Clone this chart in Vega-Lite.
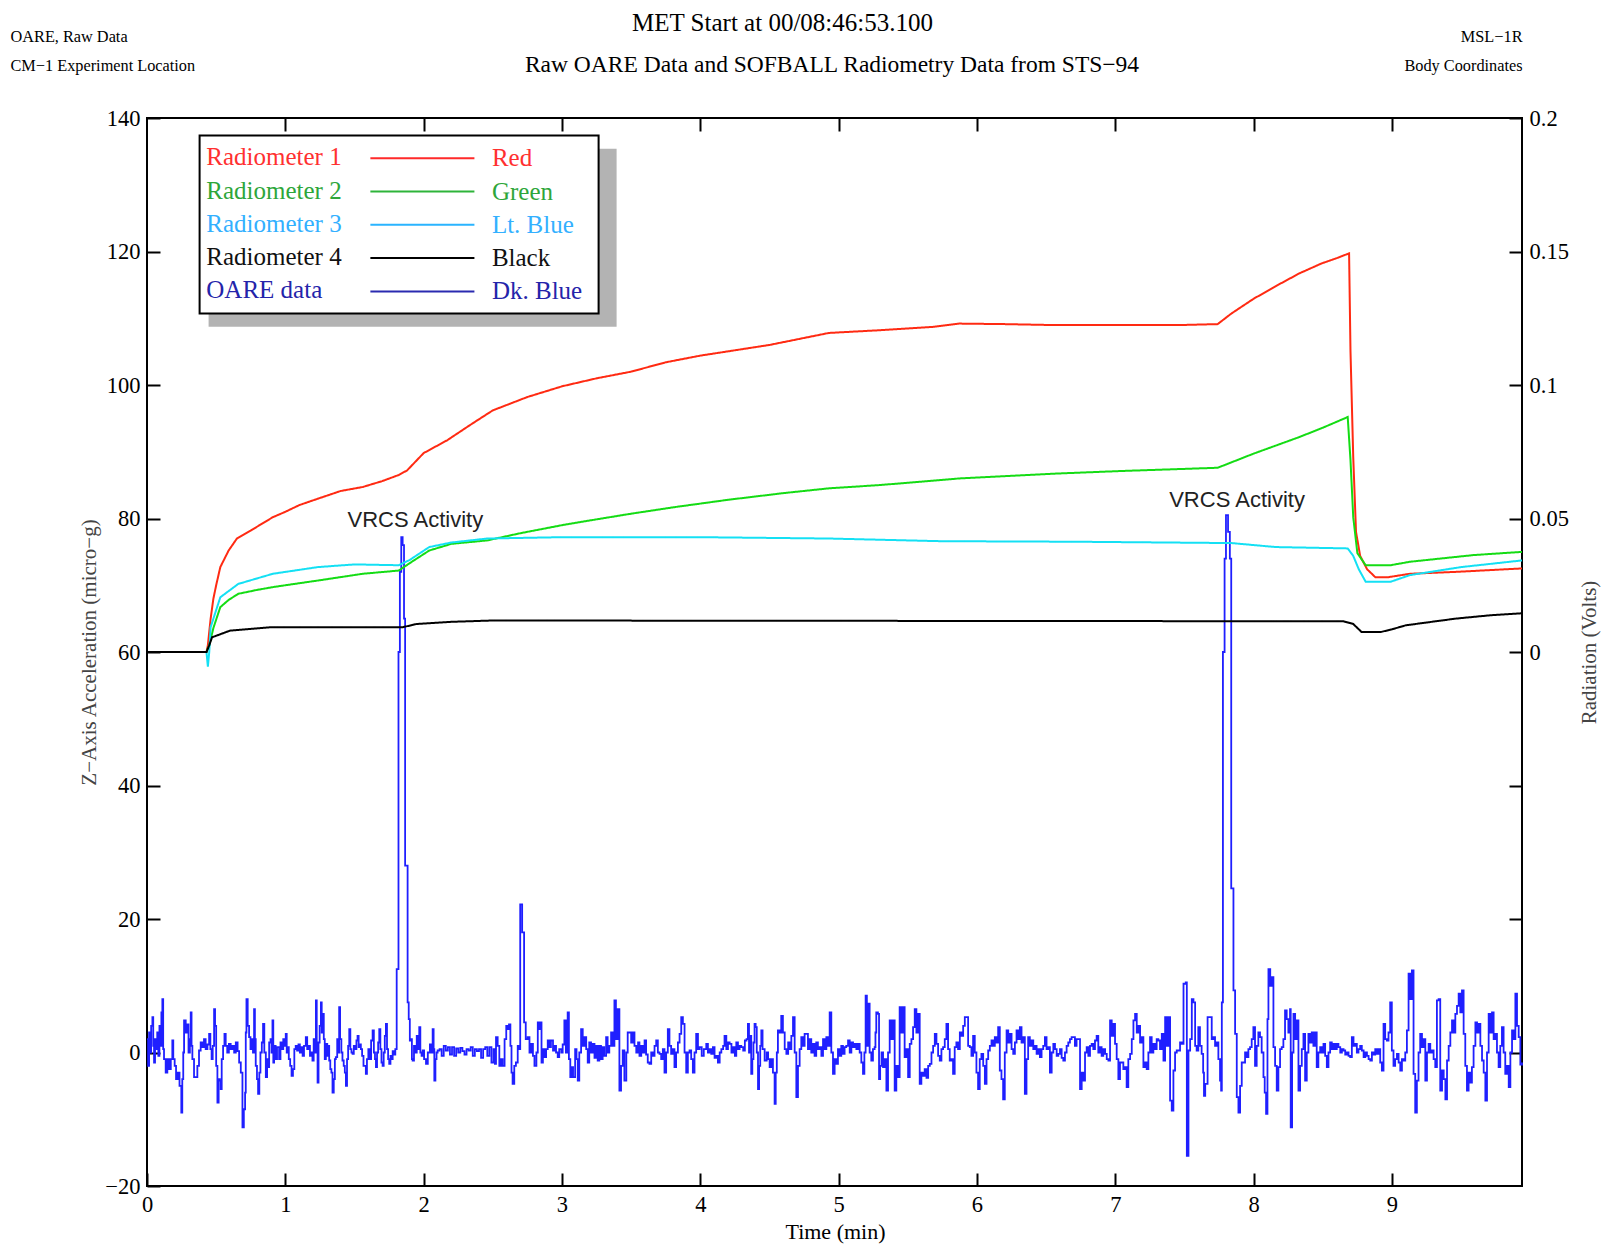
{
"$schema":"https://vega.github.io/schema/vega-lite/v6.json",
"width":1375,"height":1068,
"autosize":{"type":"none"},
"padding":{"left":147,"top":118,"right":82,"bottom":60},
"background":"white",
"title":{"text":"Raw OARE Data and SOFBALL Radiometry Data from STS−94","anchor":"middle","frame":"group","offset":-66,"dx":-2.5,"font":"Liberation Serif","fontSize":23.5,"fontWeight":"normal","color":"black"},
"config":{
 "view":{"stroke":"black","strokeWidth":2},
 "axis":{"domain":false,"grid":false,"tickColor":"black","tickWidth":2,"tickSize":-13,"labelPadding":20,"labelFlush":false,"labelOverlap":false,"labelFont":"Liberation Serif","labelFontSize":22.5,"labelColor":"black","titleFont":"Liberation Serif","titleFontSize":22,"titleFontWeight":"normal","titleColor":"black"}
},
"datasets":{
"radio":[
{"t":0,"volts":0,"series":"Radiometer 1"},{"t":0.43,"volts":0,"series":"Radiometer 1"},{"t":0.44,"volts":0.0025,"series":"Radiometer 1"},{"t":0.46,"volts":0.0125,"series":"Radiometer 1"},{"t":0.48,"volts":0.02,"series":"Radiometer 1"},{"t":0.5,"volts":0.025,"series":"Radiometer 1"},{"t":0.53,"volts":0.0318,"series":"Radiometer 1"},{"t":0.59,"volts":0.038,"series":"Radiometer 1"},{"t":0.65,"volts":0.0425,"series":"Radiometer 1"},{"t":0.75,"volts":0.0455,"series":"Radiometer 1"},{"t":0.91,"volts":0.0505,"series":"Radiometer 1"},{"t":1.0,"volts":0.0525,"series":"Radiometer 1"},{"t":1.1,"volts":0.055,"series":"Radiometer 1"},{"t":1.24,"volts":0.0575,"series":"Radiometer 1"},{"t":1.4,"volts":0.0603,"series":"Radiometer 1"},{"t":1.56,"volts":0.0618,"series":"Radiometer 1"},{"t":1.7,"volts":0.064,"series":"Radiometer 1"},{"t":1.82,"volts":0.0663,"series":"Radiometer 1"},{"t":1.88,"volts":0.068,"series":"Radiometer 1"},{"t":2.0,"volts":0.0745,"series":"Radiometer 1"},{"t":2.17,"volts":0.0793,"series":"Radiometer 1"},{"t":2.35,"volts":0.0855,"series":"Radiometer 1"},{"t":2.5,"volts":0.0905,"series":"Radiometer 1"},{"t":2.75,"volts":0.0955,"series":"Radiometer 1"},{"t":3.0,"volts":0.0995,"series":"Radiometer 1"},{"t":3.25,"volts":0.1025,"series":"Radiometer 1"},{"t":3.5,"volts":0.105,"series":"Radiometer 1"},{"t":3.75,"volts":0.1085,"series":"Radiometer 1"},{"t":4.0,"volts":0.111,"series":"Radiometer 1"},{"t":4.5,"volts":0.115,"series":"Radiometer 1"},{"t":4.93,"volts":0.1195,"series":"Radiometer 1"},{"t":5.29,"volts":0.1205,"series":"Radiometer 1"},{"t":5.69,"volts":0.1218,"series":"Radiometer 1"},{"t":5.87,"volts":0.123,"series":"Radiometer 1"},{"t":6.2,"volts":0.1228,"series":"Radiometer 1"},{"t":6.5,"volts":0.1225,"series":"Radiometer 1"},{"t":7.0,"volts":0.1225,"series":"Radiometer 1"},{"t":7.5,"volts":0.1225,"series":"Radiometer 1"},{"t":7.74,"volts":0.1228,"series":"Radiometer 1"},{"t":7.84,"volts":0.1268,"series":"Radiometer 1"},{"t":8.0,"volts":0.1323,"series":"Radiometer 1"},{"t":8.17,"volts":0.1373,"series":"Radiometer 1"},{"t":8.33,"volts":0.1418,"series":"Radiometer 1"},{"t":8.49,"volts":0.1455,"series":"Radiometer 1"},{"t":8.6,"volts":0.1475,"series":"Radiometer 1"},{"t":8.69,"volts":0.1493,"series":"Radiometer 1"},{"t":8.7,"volts":0.113,"series":"Radiometer 1"},{"t":8.72,"volts":0.073,"series":"Radiometer 1"},{"t":8.74,"volts":0.045,"series":"Radiometer 1"},{"t":8.77,"volts":0.036,"series":"Radiometer 1"},{"t":8.82,"volts":0.031,"series":"Radiometer 1"},{"t":8.88,"volts":0.028,"series":"Radiometer 1"},{"t":8.97,"volts":0.028,"series":"Radiometer 1"},{"t":9.13,"volts":0.0293,"series":"Radiometer 1"},{"t":9.46,"volts":0.03,"series":"Radiometer 1"},{"t":9.94,"volts":0.0313,"series":"Radiometer 1"},
{"t":0,"volts":0,"series":"Radiometer 2"},{"t":0.43,"volts":0,"series":"Radiometer 2"},{"t":0.45,"volts":0.0025,"series":"Radiometer 2"},{"t":0.48,"volts":0.009,"series":"Radiometer 2"},{"t":0.53,"volts":0.0168,"series":"Radiometer 2"},{"t":0.59,"volts":0.0195,"series":"Radiometer 2"},{"t":0.66,"volts":0.0218,"series":"Radiometer 2"},{"t":0.8,"volts":0.0233,"series":"Radiometer 2"},{"t":0.91,"volts":0.0243,"series":"Radiometer 2"},{"t":1.0,"volts":0.025,"series":"Radiometer 2"},{"t":1.24,"volts":0.0268,"series":"Radiometer 2"},{"t":1.56,"volts":0.0293,"series":"Radiometer 2"},{"t":1.82,"volts":0.0305,"series":"Radiometer 2"},{"t":1.9,"volts":0.0333,"series":"Radiometer 2"},{"t":2.04,"volts":0.038,"series":"Radiometer 2"},{"t":2.2,"volts":0.0405,"series":"Radiometer 2"},{"t":2.46,"volts":0.0418,"series":"Radiometer 2"},{"t":2.7,"volts":0.0445,"series":"Radiometer 2"},{"t":3.0,"volts":0.0475,"series":"Radiometer 2"},{"t":3.17,"volts":0.049,"series":"Radiometer 2"},{"t":3.5,"volts":0.0518,"series":"Radiometer 2"},{"t":3.82,"volts":0.0543,"series":"Radiometer 2"},{"t":4.2,"volts":0.057,"series":"Radiometer 2"},{"t":4.6,"volts":0.0595,"series":"Radiometer 2"},{"t":4.93,"volts":0.0613,"series":"Radiometer 2"},{"t":5.29,"volts":0.0625,"series":"Radiometer 2"},{"t":5.6,"volts":0.0638,"series":"Radiometer 2"},{"t":5.87,"volts":0.065,"series":"Radiometer 2"},{"t":6.56,"volts":0.0668,"series":"Radiometer 2"},{"t":7.05,"volts":0.0678,"series":"Radiometer 2"},{"t":7.74,"volts":0.069,"series":"Radiometer 2"},{"t":8.0,"volts":0.0743,"series":"Radiometer 2"},{"t":8.33,"volts":0.0805,"series":"Radiometer 2"},{"t":8.5,"volts":0.084,"series":"Radiometer 2"},{"t":8.68,"volts":0.088,"series":"Radiometer 2"},{"t":8.7,"volts":0.072,"series":"Radiometer 2"},{"t":8.72,"volts":0.0505,"series":"Radiometer 2"},{"t":8.75,"volts":0.037,"series":"Radiometer 2"},{"t":8.81,"volts":0.0325,"series":"Radiometer 2"},{"t":8.99,"volts":0.0325,"series":"Radiometer 2"},{"t":9.13,"volts":0.0338,"series":"Radiometer 2"},{"t":9.59,"volts":0.0363,"series":"Radiometer 2"},{"t":9.94,"volts":0.0375,"series":"Radiometer 2"},
{"t":0,"volts":0,"series":"Radiometer 3"},{"t":0.43,"volts":0,"series":"Radiometer 3"},{"t":0.44,"volts":-0.0055,"series":"Radiometer 3"},{"t":0.45,"volts":0,"series":"Radiometer 3"},{"t":0.46,"volts":0.0093,"series":"Radiometer 3"},{"t":0.53,"volts":0.0205,"series":"Radiometer 3"},{"t":0.66,"volts":0.0255,"series":"Radiometer 3"},{"t":0.91,"volts":0.0293,"series":"Radiometer 3"},{"t":1.235,"volts":0.0318,"series":"Radiometer 3"},{"t":1.5,"volts":0.0328,"series":"Radiometer 3"},{"t":1.82,"volts":0.0325,"series":"Radiometer 3"},{"t":1.9,"volts":0.0345,"series":"Radiometer 3"},{"t":2.04,"volts":0.0393,"series":"Radiometer 3"},{"t":2.2,"volts":0.041,"series":"Radiometer 3"},{"t":2.46,"volts":0.0425,"series":"Radiometer 3"},{"t":3.0,"volts":0.043,"series":"Radiometer 3"},{"t":4.0,"volts":0.043,"series":"Radiometer 3"},{"t":4.93,"volts":0.0425,"series":"Radiometer 3"},{"t":5.74,"volts":0.0415,"series":"Radiometer 3"},{"t":6.71,"volts":0.0413,"series":"Radiometer 3"},{"t":7.84,"volts":0.0408,"series":"Radiometer 3"},{"t":8.16,"volts":0.0393,"series":"Radiometer 3"},{"t":8.68,"volts":0.0388,"series":"Radiometer 3"},{"t":8.72,"volts":0.036,"series":"Radiometer 3"},{"t":8.76,"volts":0.031,"series":"Radiometer 3"},{"t":8.81,"volts":0.0263,"series":"Radiometer 3"},{"t":8.99,"volts":0.0263,"series":"Radiometer 3"},{"t":9.13,"volts":0.0288,"series":"Radiometer 3"},{"t":9.5,"volts":0.0318,"series":"Radiometer 3"},{"t":9.94,"volts":0.0343,"series":"Radiometer 3"},
{"t":0,"volts":0,"series":"Radiometer 4"},{"t":0.43,"volts":0,"series":"Radiometer 4"},{"t":0.45,"volts":0.0025,"series":"Radiometer 4"},{"t":0.47,"volts":0.0055,"series":"Radiometer 4"},{"t":0.6,"volts":0.008,"series":"Radiometer 4"},{"t":0.9,"volts":0.0093,"series":"Radiometer 4"},{"t":1.85,"volts":0.0093,"series":"Radiometer 4"},{"t":1.95,"volts":0.0105,"series":"Radiometer 4"},{"t":2.2,"volts":0.0113,"series":"Radiometer 4"},{"t":2.5,"volts":0.0118,"series":"Radiometer 4"},{"t":8.65,"volts":0.0115,"series":"Radiometer 4"},{"t":8.72,"volts":0.0105,"series":"Radiometer 4"},{"t":8.78,"volts":0.0075,"series":"Radiometer 4"},{"t":8.92,"volts":0.0075,"series":"Radiometer 4"},{"t":9.0,"volts":0.0085,"series":"Radiometer 4"},{"t":9.1,"volts":0.01,"series":"Radiometer 4"},{"t":9.46,"volts":0.0125,"series":"Radiometer 4"},{"t":9.72,"volts":0.0138,"series":"Radiometer 4"},{"t":9.94,"volts":0.0145,"series":"Radiometer 4"}
],
"notes":[{"t":1.94,"accel":79.8,"label":"VRCS Activity"},{"t":7.88,"accel":82.7,"label":"VRCS Activity"}],
"oare":[
{"t":0,"accel":2},{"t":0.008,"accel":-2},{"t":0.015,"accel":3},{"t":0.022,"accel":0},{"t":0.03,"accel":4},{"t":0.039,"accel":5.3},{"t":0.045,"accel":1},{"t":0.051,"accel":-1.5},{"t":0.058,"accel":2},{"t":0.066,"accel":0.5},{"t":0.074,"accel":3},{"t":0.082,"accel":-0.5},{"t":0.09,"accel":4},{"t":0.098,"accel":1},{"t":0.104,"accel":6},{"t":0.111,"accel":8},{"t":0.117,"accel":0.5},{"t":0.123,"accel":-1},{"t":0.135,"accel":-3},{"t":0.147,"accel":-1},{"t":0.16,"accel":-2.5},{"t":0.172,"accel":-1},{"t":0.183,"accel":1.8},{"t":0.19,"accel":-1},{"t":0.2,"accel":-2},{"t":0.21,"accel":-4},{"t":0.222,"accel":-3},{"t":0.235,"accel":-5},{"t":0.248,"accel":-9},{"t":0.255,"accel":-4},{"t":0.262,"accel":0},{"t":0.268,"accel":4.8},{"t":0.28,"accel":3},{"t":0.292,"accel":4.2},{"t":0.3,"accel":0},{"t":0.31,"accel":2},{"t":0.316,"accel":6},{"t":0.322,"accel":1},{"t":0.328,"accel":-1},{"t":0.34,"accel":-3.7},{"t":0.352,"accel":-3.7},{"t":0.364,"accel":-2},{"t":0.376,"accel":0.3},{"t":0.388,"accel":1.5},{"t":0.4,"accel":0.8},{"t":0.412,"accel":2},{"t":0.424,"accel":0.5},{"t":0.437,"accel":1.2},{"t":0.449,"accel":2.8},{"t":0.458,"accel":0.5},{"t":0.467,"accel":-1},{"t":0.475,"accel":1},{"t":0.485,"accel":6.5},{"t":0.492,"accel":4},{"t":0.5,"accel":-2},{"t":0.509,"accel":-7.5},{"t":0.518,"accel":-4},{"t":0.526,"accel":-4.2},{"t":0.533,"accel":-5.5},{"t":0.54,"accel":-1},{"t":0.55,"accel":1},{"t":0.56,"accel":2.8},{"t":0.569,"accel":1},{"t":0.58,"accel":0},{"t":0.592,"accel":1.3},{"t":0.605,"accel":0.5},{"t":0.617,"accel":1},{"t":0.63,"accel":0},{"t":0.642,"accel":1.5},{"t":0.655,"accel":0.2},{"t":0.666,"accel":-1.5},{"t":0.678,"accel":-3},{"t":0.69,"accel":-11.2},{"t":0.7,"accel":-8.5},{"t":0.709,"accel":-6},{"t":0.714,"accel":3},{"t":0.719,"accel":8},{"t":0.728,"accel":4},{"t":0.738,"accel":2.3},{"t":0.748,"accel":0.5},{"t":0.757,"accel":2},{"t":0.766,"accel":0},{"t":0.774,"accel":6.5},{"t":0.78,"accel":2},{"t":0.786,"accel":-2},{"t":0.795,"accel":-4},{"t":0.803,"accel":-6.2},{"t":0.812,"accel":-3},{"t":0.82,"accel":0},{"t":0.83,"accel":1.5},{"t":0.839,"accel":4.3},{"t":0.848,"accel":0},{"t":0.859,"accel":-3.7},{"t":0.868,"accel":-1},{"t":0.876,"accel":-2.2},{"t":0.883,"accel":1.5},{"t":0.893,"accel":2},{"t":0.9,"accel":0},{"t":0.907,"accel":4.8},{"t":0.913,"accel":-1.5},{"t":0.919,"accel":1},{"t":0.93,"accel":-1},{"t":0.94,"accel":0.8},{"t":0.955,"accel":-1},{"t":0.965,"accel":1.5},{"t":0.975,"accel":0.5},{"t":0.985,"accel":2},{"t":0.995,"accel":1},{"t":1.003,"accel":2.8},{"t":1.01,"accel":0},{"t":1.015,"accel":0.8},{"t":1.025,"accel":-1},{"t":1.035,"accel":-2},{"t":1.045,"accel":-3.5},{"t":1.055,"accel":-2.5},{"t":1.065,"accel":0.5},{"t":1.075,"accel":1},{"t":1.085,"accel":0.3},{"t":1.095,"accel":1.2},{"t":1.105,"accel":0},{"t":1.115,"accel":0.8},{"t":1.125,"accel":-0.5},{"t":1.135,"accel":1},{"t":1.148,"accel":2.3},{"t":1.158,"accel":0.5},{"t":1.168,"accel":1},{"t":1.178,"accel":-0.5},{"t":1.188,"accel":0},{"t":1.196,"accel":-1.2},{"t":1.205,"accel":2},{"t":1.212,"accel":0},{"t":1.221,"accel":7.8},{"t":1.227,"accel":0},{"t":1.233,"accel":-4.5},{"t":1.24,"accel":1.5},{"t":1.248,"accel":4},{"t":1.257,"accel":7.5},{"t":1.263,"accel":3},{"t":1.269,"accel":5.8},{"t":1.278,"accel":2},{"t":1.285,"accel":-1},{"t":1.293,"accel":1.3},{"t":1.303,"accel":-0.5},{"t":1.31,"accel":1},{"t":1.317,"accel":-1.2},{"t":1.325,"accel":-2.5},{"t":1.333,"accel":-3},{"t":1.341,"accel":-6},{"t":1.35,"accel":-4},{"t":1.358,"accel":-1},{"t":1.365,"accel":-0.7},{"t":1.375,"accel":2},{"t":1.382,"accel":0},{"t":1.389,"accel":6.8},{"t":1.396,"accel":2},{"t":1.405,"accel":0},{"t":1.413,"accel":-1.2},{"t":1.422,"accel":-2},{"t":1.43,"accel":-3},{"t":1.438,"accel":-5},{"t":1.446,"accel":-1},{"t":1.454,"accel":1},{"t":1.462,"accel":3.5},{"t":1.47,"accel":0.5},{"t":1.478,"accel":0},{"t":1.486,"accel":-0.2},{"t":1.495,"accel":1},{"t":1.505,"accel":0.5},{"t":1.514,"accel":1.8},{"t":1.522,"accel":2.5},{"t":1.53,"accel":0.8},{"t":1.538,"accel":1.2},{"t":1.546,"accel":0.5},{"t":1.555,"accel":-0.5},{"t":1.565,"accel":-2},{"t":1.574,"accel":-2},{"t":1.582,"accel":-3.2},{"t":1.59,"accel":-1},{"t":1.6,"accel":0.5},{"t":1.61,"accel":-1},{"t":1.62,"accel":1.8},{"t":1.631,"accel":3.3},{"t":1.64,"accel":0},{"t":1.648,"accel":-1},{"t":1.655,"accel":-2.2},{"t":1.663,"accel":0},{"t":1.671,"accel":1.5},{"t":1.679,"accel":3.5},{"t":1.687,"accel":0.5},{"t":1.695,"accel":-1.5},{"t":1.703,"accel":-2},{"t":1.711,"accel":0},{"t":1.719,"accel":2.5},{"t":1.727,"accel":4.3},{"t":1.735,"accel":0.5},{"t":1.743,"accel":-1},{"t":1.751,"accel":-1.7},{"t":1.76,"accel":-0.5},{"t":1.768,"accel":-1},{"t":1.776,"accel":0.2},{"t":1.785,"accel":-0.3},{"t":1.795,"accel":0.5},{"t":1.805,"accel":12.5},{"t":1.818,"accel":60},{"t":1.828,"accel":72},{"t":1.838,"accel":77.2},{"t":1.848,"accel":76},{"t":1.858,"accel":65},{"t":1.866,"accel":28},{"t":1.876,"accel":28},{"t":1.884,"accel":7.5},{"t":1.892,"accel":5},{"t":1.9,"accel":1.8},{"t":1.908,"accel":2},{"t":1.915,"accel":-1},{"t":1.92,"accel":-1.2},{"t":1.93,"accel":1},{"t":1.94,"accel":0},{"t":1.95,"accel":2.5},{"t":1.958,"accel":0.5},{"t":1.968,"accel":3.8},{"t":1.976,"accel":0},{"t":1.985,"accel":-0.5},{"t":1.993,"accel":0.3},{"t":2.003,"accel":-1},{"t":2.017,"accel":-1.7},{"t":2.03,"accel":0},{"t":2.045,"accel":1.2},{"t":2.055,"accel":0},{"t":2.065,"accel":3.5},{"t":2.072,"accel":0.5},{"t":2.077,"accel":-4.2},{"t":2.085,"accel":-1},{"t":2.093,"accel":0},{"t":2.101,"accel":0.3},{"t":2.115,"accel":0.5},{"t":2.13,"accel":-0.5},{"t":2.145,"accel":1},{"t":2.16,"accel":0.3},{"t":2.175,"accel":0.8},{"t":2.19,"accel":-0.3},{"t":2.205,"accel":0.8},{"t":2.22,"accel":-0.5},{"t":2.235,"accel":0.6},{"t":2.25,"accel":0},{"t":2.265,"accel":0.7},{"t":2.28,"accel":0.2},{"t":2.295,"accel":-0.3},{"t":2.31,"accel":0.5},{"t":2.325,"accel":0.3},{"t":2.34,"accel":0.8},{"t":2.355,"accel":-0.5},{"t":2.37,"accel":0.5},{"t":2.385,"accel":0.2},{"t":2.4,"accel":0.5},{"t":2.415,"accel":-0.8},{"t":2.43,"accel":0.5},{"t":2.445,"accel":0.8},{"t":2.46,"accel":-0.5},{"t":2.475,"accel":0.8},{"t":2.49,"accel":-1.5},{"t":2.505,"accel":0.5},{"t":2.515,"accel":-1.7},{"t":2.523,"accel":2.3},{"t":2.535,"accel":1},{"t":2.547,"accel":-2},{"t":2.56,"accel":-1},{"t":2.571,"accel":-2},{"t":2.585,"accel":2},{"t":2.597,"accel":4},{"t":2.607,"accel":3.5},{"t":2.617,"accel":4.2},{"t":2.627,"accel":1},{"t":2.635,"accel":-3},{"t":2.643,"accel":-4.7},{"t":2.655,"accel":-2},{"t":2.667,"accel":-1.5},{"t":2.68,"accel":1},{"t":2.69,"accel":0.5},{"t":2.698,"accel":22.2},{"t":2.712,"accel":18},{"t":2.726,"accel":4.5},{"t":2.738,"accel":2},{"t":2.752,"accel":2.3},{"t":2.765,"accel":0},{"t":2.777,"accel":1.3},{"t":2.79,"accel":-0.5},{"t":2.801,"accel":-2},{"t":2.815,"accel":0},{"t":2.825,"accel":4.5},{"t":2.835,"accel":3.5},{"t":2.845,"accel":4.5},{"t":2.852,"accel":-1.5},{"t":2.862,"accel":0.5},{"t":2.873,"accel":-0.7},{"t":2.885,"accel":0.5},{"t":2.897,"accel":1.8},{"t":2.909,"accel":0.8},{"t":2.92,"accel":1.8},{"t":2.935,"accel":0.3},{"t":2.945,"accel":1},{"t":2.957,"accel":0},{"t":2.969,"accel":-0.7},{"t":2.98,"accel":0.5},{"t":2.995,"accel":0},{"t":3.005,"accel":1.2},{"t":3.017,"accel":4.8},{"t":3.028,"accel":0},{"t":3.041,"accel":6},{"t":3.05,"accel":-1},{"t":3.06,"accel":-3.7},{"t":3.07,"accel":-2.2},{"t":3.08,"accel":-3.7},{"t":3.095,"accel":0.5},{"t":3.105,"accel":-1},{"t":3.114,"accel":-4.2},{"t":3.125,"accel":0},{"t":3.138,"accel":3.5},{"t":3.15,"accel":1},{"t":3.162,"accel":2.3},{"t":3.175,"accel":0.5},{"t":3.186,"accel":-1.5},{"t":3.197,"accel":1.5},{"t":3.21,"accel":0},{"t":3.222,"accel":1.3},{"t":3.235,"accel":-0.8},{"t":3.247,"accel":1},{"t":3.258,"accel":-1.2},{"t":3.27,"accel":1},{"t":3.282,"accel":-1},{"t":3.294,"accel":0.8},{"t":3.305,"accel":-0.5},{"t":3.319,"accel":2.3},{"t":3.33,"accel":0},{"t":3.342,"accel":1},{"t":3.355,"accel":3},{"t":3.367,"accel":1},{"t":3.379,"accel":7.8},{"t":3.39,"accel":2},{"t":3.403,"accel":6.5},{"t":3.415,"accel":-5.7},{"t":3.427,"accel":-2},{"t":3.439,"accel":0.3},{"t":3.451,"accel":-4.2},{"t":3.465,"accel":0},{"t":3.475,"accel":3},{"t":3.488,"accel":3},{"t":3.5,"accel":1.5},{"t":3.512,"accel":3},{"t":3.524,"accel":1},{"t":3.537,"accel":0},{"t":3.55,"accel":1.5},{"t":3.56,"accel":-0.5},{"t":3.573,"accel":1},{"t":3.585,"accel":0},{"t":3.597,"accel":1.8},{"t":3.608,"accel":-0.3},{"t":3.62,"accel":-1.5},{"t":3.632,"accel":-1.7},{"t":3.645,"accel":0},{"t":3.657,"accel":-0.5},{"t":3.669,"accel":1},{"t":3.681,"accel":1.8},{"t":3.693,"accel":0},{"t":3.705,"accel":-0.2},{"t":3.717,"accel":-1},{"t":3.729,"accel":0.5},{"t":3.741,"accel":-3},{"t":3.753,"accel":0},{"t":3.765,"accel":3.5},{"t":3.777,"accel":1},{"t":3.789,"accel":-0.2},{"t":3.8,"accel":0.5},{"t":3.813,"accel":-2.2},{"t":3.825,"accel":0},{"t":3.838,"accel":1.5},{"t":3.85,"accel":2.8},{"t":3.862,"accel":5.3},{"t":3.874,"accel":4.3},{"t":3.886,"accel":0},{"t":3.898,"accel":-3},{"t":3.91,"accel":0},{"t":3.922,"accel":0.3},{"t":3.934,"accel":-1},{"t":3.946,"accel":-3},{"t":3.958,"accel":0},{"t":3.97,"accel":2.8},{"t":3.983,"accel":0.5},{"t":3.995,"accel":0.8},{"t":4.01,"accel":-0.5},{"t":4.025,"accel":0.5},{"t":4.043,"accel":1.3},{"t":4.055,"accel":0},{"t":4.067,"accel":0.5},{"t":4.079,"accel":-0.2},{"t":4.091,"accel":0.8},{"t":4.103,"accel":-0.8},{"t":4.115,"accel":-0.5},{"t":4.127,"accel":-1.5},{"t":4.14,"accel":0},{"t":4.152,"accel":0.5},{"t":4.165,"accel":1},{"t":4.175,"accel":2.5},{"t":4.188,"accel":0.5},{"t":4.2,"accel":1.5},{"t":4.212,"accel":1.3},{"t":4.225,"accel":0},{"t":4.237,"accel":0.8},{"t":4.25,"accel":-0.5},{"t":4.26,"accel":1.5},{"t":4.272,"accel":0.5},{"t":4.284,"accel":1},{"t":4.296,"accel":0.8},{"t":4.31,"accel":0.3},{"t":4.322,"accel":1.8},{"t":4.334,"accel":2},{"t":4.344,"accel":4.3},{"t":4.352,"accel":0},{"t":4.36,"accel":2.5},{"t":4.368,"accel":-3.2},{"t":4.376,"accel":-1},{"t":4.384,"accel":1.5},{"t":4.392,"accel":4.3},{"t":4.4,"accel":3.8},{"t":4.408,"accel":0},{"t":4.417,"accel":-5.5},{"t":4.425,"accel":-2},{"t":4.433,"accel":1},{"t":4.441,"accel":3.3},{"t":4.45,"accel":0.5},{"t":4.465,"accel":-1.2},{"t":4.48,"accel":0},{"t":4.49,"accel":-1},{"t":4.501,"accel":-2.2},{"t":4.512,"accel":-1},{"t":4.525,"accel":-3},{"t":4.537,"accel":-7.7},{"t":4.545,"accel":-3},{"t":4.553,"accel":0},{"t":4.561,"accel":3.3},{"t":4.573,"accel":3},{"t":4.585,"accel":5.5},{"t":4.597,"accel":3},{"t":4.61,"accel":0.5},{"t":4.622,"accel":-0.2},{"t":4.635,"accel":1.5},{"t":4.647,"accel":0.5},{"t":4.658,"accel":2.5},{"t":4.67,"accel":5.3},{"t":4.682,"accel":0},{"t":4.694,"accel":-6.7},{"t":4.706,"accel":-2},{"t":4.718,"accel":0.5},{"t":4.73,"accel":2.3},{"t":4.742,"accel":1},{"t":4.754,"accel":2.8},{"t":4.766,"accel":2.8},{"t":4.778,"accel":0.5},{"t":4.79,"accel":2},{"t":4.802,"accel":0},{"t":4.814,"accel":1.3},{"t":4.826,"accel":-0.5},{"t":4.838,"accel":1.5},{"t":4.85,"accel":0.5},{"t":4.863,"accel":0.8},{"t":4.875,"accel":-0.5},{"t":4.887,"accel":2},{"t":4.899,"accel":0.5},{"t":4.911,"accel":2.3},{"t":4.923,"accel":1},{"t":4.935,"accel":6},{"t":4.947,"accel":0},{"t":4.959,"accel":-3.2},{"t":4.971,"accel":-1},{"t":4.983,"accel":-1.7},{"t":4.995,"accel":0.5},{"t":5.007,"accel":-0.5},{"t":5.019,"accel":1},{"t":5.031,"accel":-0.2},{"t":5.043,"accel":0.8},{"t":5.055,"accel":1},{"t":5.068,"accel":1.8},{"t":5.08,"accel":0},{"t":5.092,"accel":1.5},{"t":5.104,"accel":0.8},{"t":5.116,"accel":1.3},{"t":5.128,"accel":0.5},{"t":5.14,"accel":1.3},{"t":5.152,"accel":0},{"t":5.164,"accel":-1.5},{"t":5.176,"accel":-3.2},{"t":5.186,"accel":0},{"t":5.195,"accel":8.5},{"t":5.204,"accel":1},{"t":5.212,"accel":7.3},{"t":5.224,"accel":0},{"t":5.236,"accel":-1.2},{"t":5.248,"accel":0.5},{"t":5.26,"accel":0.8},{"t":5.266,"accel":3},{"t":5.272,"accel":6},{"t":5.284,"accel":5.8},{"t":5.292,"accel":-4},{"t":5.3,"accel":-2},{"t":5.31,"accel":0},{"t":5.321,"accel":-2.2},{"t":5.333,"accel":-1},{"t":5.345,"accel":-5.7},{"t":5.357,"accel":0},{"t":5.369,"accel":4.8},{"t":5.381,"accel":2},{"t":5.393,"accel":4.8},{"t":5.405,"accel":-5.7},{"t":5.417,"accel":-2},{"t":5.429,"accel":-3.7},{"t":5.441,"accel":6.8},{"t":5.453,"accel":3},{"t":5.465,"accel":6.8},{"t":5.477,"accel":-0.7},{"t":5.49,"accel":0.5},{"t":5.502,"accel":-3.7},{"t":5.514,"accel":1.3},{"t":5.526,"accel":2},{"t":5.538,"accel":3.8},{"t":5.55,"accel":6.5},{"t":5.562,"accel":3},{"t":5.574,"accel":5.8},{"t":5.586,"accel":-4.7},{"t":5.598,"accel":-3},{"t":5.61,"accel":-3.5},{"t":5.622,"accel":-2.5},{"t":5.635,"accel":-3.8},{"t":5.647,"accel":-2},{"t":5.659,"accel":-1.7},{"t":5.671,"accel":0},{"t":5.683,"accel":1},{"t":5.695,"accel":2.8},{"t":5.707,"accel":1.3},{"t":5.719,"accel":-0.5},{"t":5.731,"accel":-1.2},{"t":5.743,"accel":0.5},{"t":5.755,"accel":0.8},{"t":5.767,"accel":2},{"t":5.779,"accel":4.3},{"t":5.791,"accel":0.5},{"t":5.803,"accel":-1.2},{"t":5.815,"accel":-1},{"t":5.827,"accel":-3.2},{"t":5.839,"accel":0.8},{"t":5.851,"accel":1.5},{"t":5.863,"accel":0.5},{"t":5.876,"accel":3},{"t":5.888,"accel":2.5},{"t":5.9,"accel":4},{"t":5.912,"accel":5.3},{"t":5.924,"accel":5.3},{"t":5.936,"accel":1},{"t":5.948,"accel":0.8},{"t":5.96,"accel":-0.5},{"t":5.972,"accel":2.5},{"t":5.984,"accel":0},{"t":5.996,"accel":-3},{"t":6.008,"accel":-5.5},{"t":6.02,"accel":-1},{"t":6.032,"accel":-0.2},{"t":6.045,"accel":-2},{"t":6.057,"accel":-4.7},{"t":6.069,"accel":-1},{"t":6.081,"accel":0.3},{"t":6.093,"accel":1},{"t":6.105,"accel":1.8},{"t":6.117,"accel":1},{"t":6.129,"accel":2.3},{"t":6.141,"accel":1.5},{"t":6.153,"accel":3.8},{"t":6.165,"accel":-2.7},{"t":6.177,"accel":-4},{"t":6.189,"accel":-7},{"t":6.201,"accel":0},{"t":6.214,"accel":3.3},{"t":6.226,"accel":1.5},{"t":6.238,"accel":2.8},{"t":6.25,"accel":0.5},{"t":6.262,"accel":-0.2},{"t":6.274,"accel":1.5},{"t":6.286,"accel":3.3},{"t":6.298,"accel":2},{"t":6.31,"accel":3.8},{"t":6.322,"accel":1.5},{"t":6.334,"accel":2.3},{"t":6.346,"accel":-6.2},{"t":6.358,"accel":-1},{"t":6.37,"accel":2.3},{"t":6.382,"accel":1},{"t":6.395,"accel":1.8},{"t":6.407,"accel":0.5},{"t":6.419,"accel":1},{"t":6.431,"accel":-0.2},{"t":6.443,"accel":0.5},{"t":6.455,"accel":-0.7},{"t":6.467,"accel":0.5},{"t":6.479,"accel":1},{"t":6.491,"accel":2.3},{"t":6.503,"accel":0.5},{"t":6.515,"accel":0.8},{"t":6.527,"accel":-3},{"t":6.54,"accel":0},{"t":6.552,"accel":1.3},{"t":6.564,"accel":0.5},{"t":6.576,"accel":-0.5},{"t":6.588,"accel":-0.2},{"t":6.6,"accel":0.5},{"t":6.612,"accel":-0.8},{"t":6.624,"accel":-1.2},{"t":6.636,"accel":0},{"t":6.648,"accel":1},{"t":6.66,"accel":1.5},{"t":6.672,"accel":2},{"t":6.684,"accel":2.3},{"t":6.696,"accel":2.3},{"t":6.708,"accel":1},{"t":6.72,"accel":2},{"t":6.733,"accel":2},{"t":6.745,"accel":-5.5},{"t":6.757,"accel":-3},{"t":6.769,"accel":-4.2},{"t":6.781,"accel":0},{"t":6.793,"accel":0.8},{"t":6.805,"accel":-0.5},{"t":6.817,"accel":1},{"t":6.829,"accel":1.3},{"t":6.841,"accel":0.5},{"t":6.853,"accel":1.8},{"t":6.865,"accel":2.5},{"t":6.877,"accel":0},{"t":6.889,"accel":0.8},{"t":6.901,"accel":-0.5},{"t":6.913,"accel":0.5},{"t":6.926,"accel":-0.2},{"t":6.938,"accel":-1},{"t":6.95,"accel":-1.2},{"t":6.962,"accel":4.8},{"t":6.974,"accel":2.5},{"t":6.986,"accel":4.3},{"t":6.998,"accel":1.3},{"t":7.01,"accel":-1},{"t":7.022,"accel":-4},{"t":7.034,"accel":-1.5},{"t":7.046,"accel":-1.5},{"t":7.058,"accel":-2.5},{"t":7.07,"accel":-2.2},{"t":7.082,"accel":-5.2},{"t":7.094,"accel":-1},{"t":7.107,"accel":-0.2},{"t":7.119,"accel":2},{"t":7.131,"accel":4.8},{"t":7.143,"accel":5.8},{"t":7.155,"accel":3},{"t":7.167,"accel":4},{"t":7.179,"accel":1.5},{"t":7.191,"accel":2.3},{"t":7.203,"accel":-2.2},{"t":7.215,"accel":-1.5},{"t":7.227,"accel":-2.5},{"t":7.239,"accel":0},{"t":7.251,"accel":2.3},{"t":7.263,"accel":0},{"t":7.275,"accel":1.3},{"t":7.287,"accel":0.5},{"t":7.299,"accel":2},{"t":7.311,"accel":1.8},{"t":7.323,"accel":0.5},{"t":7.336,"accel":2.8},{"t":7.348,"accel":-1.2},{"t":7.36,"accel":5.3},{"t":7.372,"accel":1},{"t":7.384,"accel":5.3},{"t":7.396,"accel":-7.2},{"t":7.408,"accel":-8.7},{"t":7.42,"accel":-2.7},{"t":7.432,"accel":0},{"t":7.444,"accel":0.3},{"t":7.456,"accel":0.3},{"t":7.468,"accel":1.5},{"t":7.48,"accel":1.3},{"t":7.493,"accel":10.3},{"t":7.509,"accel":10.5},{"t":7.517,"accel":-15.5},{"t":7.529,"accel":0.3},{"t":7.541,"accel":2},{"t":7.553,"accel":8},{"t":7.565,"accel":7.5},{"t":7.577,"accel":1},{"t":7.588,"accel":0.3},{"t":7.6,"accel":3.8},{"t":7.612,"accel":1},{"t":7.624,"accel":-0.2},{"t":7.635,"accel":-3},{"t":7.641,"accel":-6.5},{"t":7.65,"accel":-4.7},{"t":7.661,"accel":-4.7},{"t":7.667,"accel":5.3},{"t":7.685,"accel":5.3},{"t":7.697,"accel":2},{"t":7.709,"accel":2.3},{"t":7.721,"accel":1},{"t":7.733,"accel":1.5},{"t":7.745,"accel":-1},{"t":7.757,"accel":-4.2},{"t":7.765,"accel":-5.7},{"t":7.77,"accel":7.5},{"t":7.778,"accel":60},{"t":7.79,"accel":74},{"t":7.8,"accel":80.5},{"t":7.815,"accel":78},{"t":7.828,"accel":74},{"t":7.838,"accel":24.6},{"t":7.854,"accel":9.3},{"t":7.866,"accel":2.8},{"t":7.878,"accel":-6.7},{"t":7.89,"accel":-9},{"t":7.902,"accel":-5},{"t":7.914,"accel":-1.5},{"t":7.926,"accel":-1.5},{"t":7.938,"accel":0},{"t":7.95,"accel":-0.7},{"t":7.962,"accel":0.5},{"t":7.974,"accel":0.8},{"t":7.986,"accel":2},{"t":7.998,"accel":3.8},{"t":8.01,"accel":-2},{"t":8.022,"accel":1},{"t":8.034,"accel":3},{"t":8.046,"accel":2.3},{"t":8.058,"accel":0},{"t":8.071,"accel":-3.7},{"t":8.08,"accel":-6},{"t":8.09,"accel":-9.2},{"t":8.1,"accel":5},{"t":8.107,"accel":12.5},{"t":8.12,"accel":10},{"t":8.131,"accel":11.3},{"t":8.143,"accel":0.8},{"t":8.155,"accel":-2},{"t":8.167,"accel":-5.7},{"t":8.179,"accel":-2.2},{"t":8.191,"accel":0.5},{"t":8.203,"accel":0.8},{"t":8.215,"accel":2},{"t":8.227,"accel":6.3},{"t":8.239,"accel":5},{"t":8.251,"accel":3},{"t":8.263,"accel":6.5},{"t":8.268,"accel":-11.2},{"t":8.278,"accel":0},{"t":8.288,"accel":5.8},{"t":8.3,"accel":2},{"t":8.312,"accel":4.8},{"t":8.324,"accel":-5.7},{"t":8.336,"accel":-2},{"t":8.348,"accel":0.5},{"t":8.36,"accel":2.8},{"t":8.372,"accel":-4.2},{"t":8.384,"accel":0},{"t":8.396,"accel":2.8},{"t":8.408,"accel":1.5},{"t":8.42,"accel":3},{"t":8.432,"accel":1},{"t":8.444,"accel":3},{"t":8.456,"accel":-2.2},{"t":8.468,"accel":0},{"t":8.481,"accel":0.8},{"t":8.493,"accel":0},{"t":8.505,"accel":1.3},{"t":8.517,"accel":-0.5},{"t":8.529,"accel":-2.2},{"t":8.541,"accel":0},{"t":8.553,"accel":1.5},{"t":8.565,"accel":0.5},{"t":8.577,"accel":1.3},{"t":8.589,"accel":0.5},{"t":8.601,"accel":1.3},{"t":8.613,"accel":0.8},{"t":8.626,"accel":0},{"t":8.638,"accel":0.5},{"t":8.65,"accel":0.3},{"t":8.662,"accel":-0.3},{"t":8.674,"accel":0},{"t":8.686,"accel":-0.5},{"t":8.698,"accel":-0.7},{"t":8.71,"accel":2.3},{"t":8.722,"accel":1},{"t":8.734,"accel":1.3},{"t":8.746,"accel":0},{"t":8.758,"accel":0.5},{"t":8.77,"accel":1},{"t":8.782,"accel":0.3},{"t":8.795,"accel":-0.7},{"t":8.807,"accel":0},{"t":8.819,"accel":-0.5},{"t":8.831,"accel":-1},{"t":8.843,"accel":-1.2},{"t":8.855,"accel":0},{"t":8.867,"accel":-0.3},{"t":8.879,"accel":0.5},{"t":8.891,"accel":-0.2},{"t":8.903,"accel":0.5},{"t":8.915,"accel":-1.5},{"t":8.927,"accel":-2.7},{"t":8.939,"accel":4.3},{"t":8.951,"accel":2},{"t":8.963,"accel":1.8},{"t":8.975,"accel":3},{"t":8.987,"accel":7.5},{"t":8.999,"accel":0.3},{"t":9.011,"accel":-2},{"t":9.023,"accel":-1},{"t":9.036,"accel":-0.2},{"t":9.048,"accel":-1.5},{"t":9.06,"accel":-2.7},{"t":9.072,"accel":-1},{"t":9.084,"accel":-1.2},{"t":9.096,"accel":0},{"t":9.108,"accel":3.3},{"t":9.12,"accel":11.8},{"t":9.132,"accel":8},{"t":9.144,"accel":12.3},{"t":9.156,"accel":-3.2},{"t":9.168,"accel":-9},{"t":9.18,"accel":-4.2},{"t":9.192,"accel":0},{"t":9.204,"accel":2.8},{"t":9.217,"accel":0.8},{"t":9.229,"accel":2},{"t":9.241,"accel":-4.2},{"t":9.253,"accel":0},{"t":9.265,"accel":1.3},{"t":9.277,"accel":0},{"t":9.289,"accel":0.3},{"t":9.301,"accel":-1},{"t":9.313,"accel":-2.2},{"t":9.325,"accel":7.8},{"t":9.337,"accel":8},{"t":9.349,"accel":-5.7},{"t":9.362,"accel":-2.7},{"t":9.374,"accel":-4},{"t":9.386,"accel":-7},{"t":9.398,"accel":-1.2},{"t":9.41,"accel":1},{"t":9.422,"accel":3},{"t":9.434,"accel":4.8},{"t":9.446,"accel":3},{"t":9.458,"accel":5.8},{"t":9.47,"accel":7},{"t":9.482,"accel":8.8},{"t":9.494,"accel":6},{"t":9.506,"accel":9.3},{"t":9.518,"accel":2.8},{"t":9.53,"accel":-2},{"t":9.542,"accel":-5.7},{"t":9.554,"accel":-3},{"t":9.566,"accel":-4.5},{"t":9.578,"accel":-2.2},{"t":9.59,"accel":1},{"t":9.603,"accel":4.5},{"t":9.615,"accel":3},{"t":9.627,"accel":4.3},{"t":9.639,"accel":1},{"t":9.651,"accel":-1.2},{"t":9.663,"accel":-3},{"t":9.675,"accel":-7.2},{"t":9.687,"accel":0},{"t":9.699,"accel":5.8},{"t":9.711,"accel":3},{"t":9.723,"accel":6},{"t":9.735,"accel":2},{"t":9.747,"accel":2.8},{"t":9.759,"accel":0},{"t":9.771,"accel":-2.2},{"t":9.783,"accel":1},{"t":9.795,"accel":3.8},{"t":9.807,"accel":0},{"t":9.819,"accel":-3.2},{"t":9.832,"accel":-2},{"t":9.844,"accel":-5.2},{"t":9.856,"accel":0},{"t":9.868,"accel":3.3},{"t":9.88,"accel":2},{"t":9.892,"accel":8.8},{"t":9.904,"accel":4},{"t":9.916,"accel":2.3},{"t":9.928,"accel":-1.8},{"t":9.94,"accel":-1.5}
]
},
"resolve":{"scale":{"y":"independent"},"axis":{"x":"independent"}},
"layer":[
{
 "data":{"name":"oare"},
 "mark":{"type":"line","interpolate":"step-after","strokeWidth":1.8},
 "encoding":{
  "x":{"field":"t","type":"quantitative","scale":{"domain":[0,9.94],"nice":false,"zero":false},
   "axis":{"orient":"bottom","values":[0,1,2,3,4,5,6,7,8,9],"format":"d","title":"Time (min)","titleX":688,"titleY":45,"titleBaseline":"middle","titleAlign":"center"}},
  "y":{"field":"accel","type":"quantitative","scale":{"domain":[-20,140],"nice":false,"zero":false},
   "axis":{"orient":"left","values":[-20,0,20,40,60,80,100,120,140],"title":"Z−Axis Acceleration (micro−g)","titleAngle":-90,"titleX":-58,"titleY":534,"titleBaseline":"middle","titleAlign":"center","titleColor":"#444444","titleFontSize":21}},
  "color":{"datum":"OARE data","type":"nominal",
   "scale":{"domain":["Radiometer 1","Radiometer 2","Radiometer 3","Radiometer 4","OARE data"],"range":["#ff2a12","#14dc14","#14e0f4","#000000","#1f1fff"]},
   "legend":{"orient":"none","legendX":52.6,"legendY":17.4,"title":null,"padding":9.3,"fillColor":"white","strokeColor":"black","symbolType":"M0,0L183.5,0","symbolSize":16,"symbolStrokeWidth":0,"symbolOpacity":0,"labelOffset":-27.6,"labelFont":"Liberation Serif","labelFontSize":25,"labelLimit":800,"rowPadding":7.3,"zindex":2,
    "encode":{"legend":{"update":{"strokeWidth":{"value":2}}},"labels":{"update":{"fill":[{"test":"datum.value === 'Radiometer 1'","value":"#ff3030"},{"test":"datum.value === 'Radiometer 2'","value":"#2ea63a"},{"test":"datum.value === 'Radiometer 3'","value":"#33b0ff"},{"test":"datum.value === 'Radiometer 4'","value":"#111111"},{"value":"#2424aa"}]}}}}},
  "strokeDash":{"datum":"OARE data","type":"nominal",
   "scale":{"domain":["OARE data","Radiometer 4","Radiometer 3","Radiometer 2","Radiometer 1"],"range":[[1,0],[1,0],[1,0],[1,0],[1,0]]},
   "legend":{"orient":"none","legendX":262.9,"legendY":27.7,"title":null,"padding":0,"values":["Radiometer 1","Radiometer 2","Radiometer 3","Radiometer 4","OARE data"],"symbolType":"M-5,0L5,0","symbolSize":433,"symbolStrokeWidth":2,"labelOffset":57,"labelFont":"Liberation Serif","labelFontSize":25,"rowPadding":7.3,"zindex":3,
    "labelExpr":"datum.label == 'Radiometer 1' ? 'Red' : datum.label == 'Radiometer 2' ? 'Green' : datum.label == 'Radiometer 3' ? 'Lt. Blue' : datum.label == 'Radiometer 4' ? 'Black' : 'Dk. Blue'",
    "encode":{"symbols":{"update":{"stroke":[{"test":"datum.value === 'Radiometer 1'","value":"#ff2a2a"},{"test":"datum.value === 'Radiometer 2'","value":"#2eb43a"},{"test":"datum.value === 'Radiometer 3'","value":"#2ab4ff"},{"test":"datum.value === 'Radiometer 4'","value":"#000000"},{"value":"#2a2ab0"}],"strokeWidth":{"value":2}}},"labels":{"update":{"fill":[{"test":"datum.value === 'Radiometer 1'","value":"#ff3030"},{"test":"datum.value === 'Radiometer 2'","value":"#2ea63a"},{"test":"datum.value === 'Radiometer 3'","value":"#33b0ff"},{"test":"datum.value === 'Radiometer 4'","value":"#111111"},{"value":"#2424aa"}]}}}}},
  "opacity":{"datum":"OARE data","type":"nominal",
   "scale":{"type":"point","domain":["Radiometer 2","Radiometer 1","Radiometer 3","Radiometer 4","OARE data"],"range":[1,1]},
   "legend":{"orient":"none","legendX":61.6,"legendY":30.7,"title":null,"padding":9.3,"fillColor":"#b3b3b3","symbolType":"M0,0L188,0","symbolSize":16,"symbolStrokeWidth":0,"symbolOpacity":0,"labelOffset":0,"labelFont":"Liberation Serif","labelFontSize":25,"labelLimit":800,"rowPadding":7.3,"labelExpr":"'\u00a0'","zindex":1}}
 }
},
{
 "data":{"name":"radio"},
 "mark":{"type":"line","strokeWidth":2},
 "encoding":{
  "x":{"field":"t","type":"quantitative",
   "axis":{"orient":"top","values":[1,2,3,4,5,6,7,8,9],"labels":false,"title":["OARE, Raw Data","CM−1 Experiment Location"],"titleX":-137,"titleY":-77,"titleAlign":"left","titleAngle":0,"titleBaseline":"alphabetic","titleFontSize":16.3,"titleLineHeight":29.5}},
  "y":{"field":"volts","type":"quantitative","scale":{"domain":[-0.2,0.2],"nice":false,"zero":false},
   "axis":{"orient":"right","values":[-0.15,-0.1,-0.05,0,0.05,0.1,0.15,0.2],"labelExpr":"datum.value < -0.001 ? '' : format(datum.value, '~g')","title":"Radiation (Volts)","titleAngle":-90,"titleX":67,"titleY":534,"titleBaseline":"middle","titleAlign":"center","titleColor":"#444444","titleFontSize":21}},
  "color":{"field":"series","type":"nominal",
   "scale":{"domain":["Radiometer 1","Radiometer 2","Radiometer 3","Radiometer 4","OARE data"],"range":["#ff2a12","#14dc14","#14e0f4","#000000","#1f1fff"]},
   "legend":{"orient":"none","legendX":52.6,"legendY":17.4,"title":null,"padding":9.3,"fillColor":"white","strokeColor":"black","symbolType":"M0,0L183.5,0","symbolSize":16,"symbolStrokeWidth":0,"symbolOpacity":0,"labelOffset":-27.6,"labelFont":"Liberation Serif","labelFontSize":25,"labelLimit":800,"rowPadding":7.3,"zindex":2,
    "encode":{"legend":{"update":{"strokeWidth":{"value":2}}},"labels":{"update":{"fill":[{"test":"datum.value === 'Radiometer 1'","value":"#ff3030"},{"test":"datum.value === 'Radiometer 2'","value":"#2ea63a"},{"test":"datum.value === 'Radiometer 3'","value":"#33b0ff"},{"test":"datum.value === 'Radiometer 4'","value":"#111111"},{"value":"#2424aa"}]}}}}},
  "strokeDash":{"field":"series","type":"nominal",
   "scale":{"domain":["OARE data","Radiometer 4","Radiometer 3","Radiometer 2","Radiometer 1"],"range":[[1,0],[1,0],[1,0],[1,0],[1,0]]},
   "legend":{"orient":"none","legendX":262.9,"legendY":27.7,"title":null,"padding":0,"values":["Radiometer 1","Radiometer 2","Radiometer 3","Radiometer 4","OARE data"],"symbolType":"M-5,0L5,0","symbolSize":433,"symbolStrokeWidth":2,"labelOffset":57,"labelFont":"Liberation Serif","labelFontSize":25,"rowPadding":7.3,"zindex":3,
    "labelExpr":"datum.label == 'Radiometer 1' ? 'Red' : datum.label == 'Radiometer 2' ? 'Green' : datum.label == 'Radiometer 3' ? 'Lt. Blue' : datum.label == 'Radiometer 4' ? 'Black' : 'Dk. Blue'",
    "encode":{"symbols":{"update":{"stroke":[{"test":"datum.value === 'Radiometer 1'","value":"#ff2a2a"},{"test":"datum.value === 'Radiometer 2'","value":"#2eb43a"},{"test":"datum.value === 'Radiometer 3'","value":"#2ab4ff"},{"test":"datum.value === 'Radiometer 4'","value":"#000000"},{"value":"#2a2ab0"}],"strokeWidth":{"value":2}}},"labels":{"update":{"fill":[{"test":"datum.value === 'Radiometer 1'","value":"#ff3030"},{"test":"datum.value === 'Radiometer 2'","value":"#2ea63a"},{"test":"datum.value === 'Radiometer 3'","value":"#33b0ff"},{"test":"datum.value === 'Radiometer 4'","value":"#111111"},{"value":"#2424aa"}]}}}}},
  "opacity":{"field":"series","type":"nominal",
   "scale":{"type":"point","domain":["Radiometer 2","Radiometer 1","Radiometer 3","Radiometer 4","OARE data"],"range":[1,1]},
   "legend":{"orient":"none","legendX":61.6,"legendY":30.7,"title":null,"padding":9.3,"fillColor":"#b3b3b3","symbolType":"M0,0L188,0","symbolSize":16,"symbolStrokeWidth":0,"symbolOpacity":0,"labelOffset":0,"labelFont":"Liberation Serif","labelFontSize":25,"labelLimit":800,"rowPadding":7.3,"labelExpr":"'\u00a0'","zindex":1}}
 }
},
{
 "data":{"name":"notes"},
 "mark":{"type":"text","font":"Liberation Sans","fontSize":22,"color":"#222222","align":"center","baseline":"middle"},
 "encoding":{
  "x":{"field":"t","type":"quantitative",
   "axis":{"orient":"top","ticks":false,"labels":false,"domain":false,"title":["MSL−1R","Body Coordinates"],"titleX":1375,"titleY":-77,"titleAlign":"right","titleAngle":0,"titleBaseline":"alphabetic","titleFontSize":16.3,"titleLineHeight":29.5}},
  "y":{"field":"accel","type":"quantitative","scale":{"domain":[-20,140],"nice":false,"zero":false},
   "axis":{"orient":"right","ticks":false,"labels":false,"domain":false,"title":"MET Start at 00/08:46:53.100","titleAngle":0,"titleX":-740,"titleY":-95.5,"titleBaseline":"middle","titleAlign":"center","titleFontSize":25,"titleColor":"black"}},
  "text":{"field":"label"}
 }
}
]
}
